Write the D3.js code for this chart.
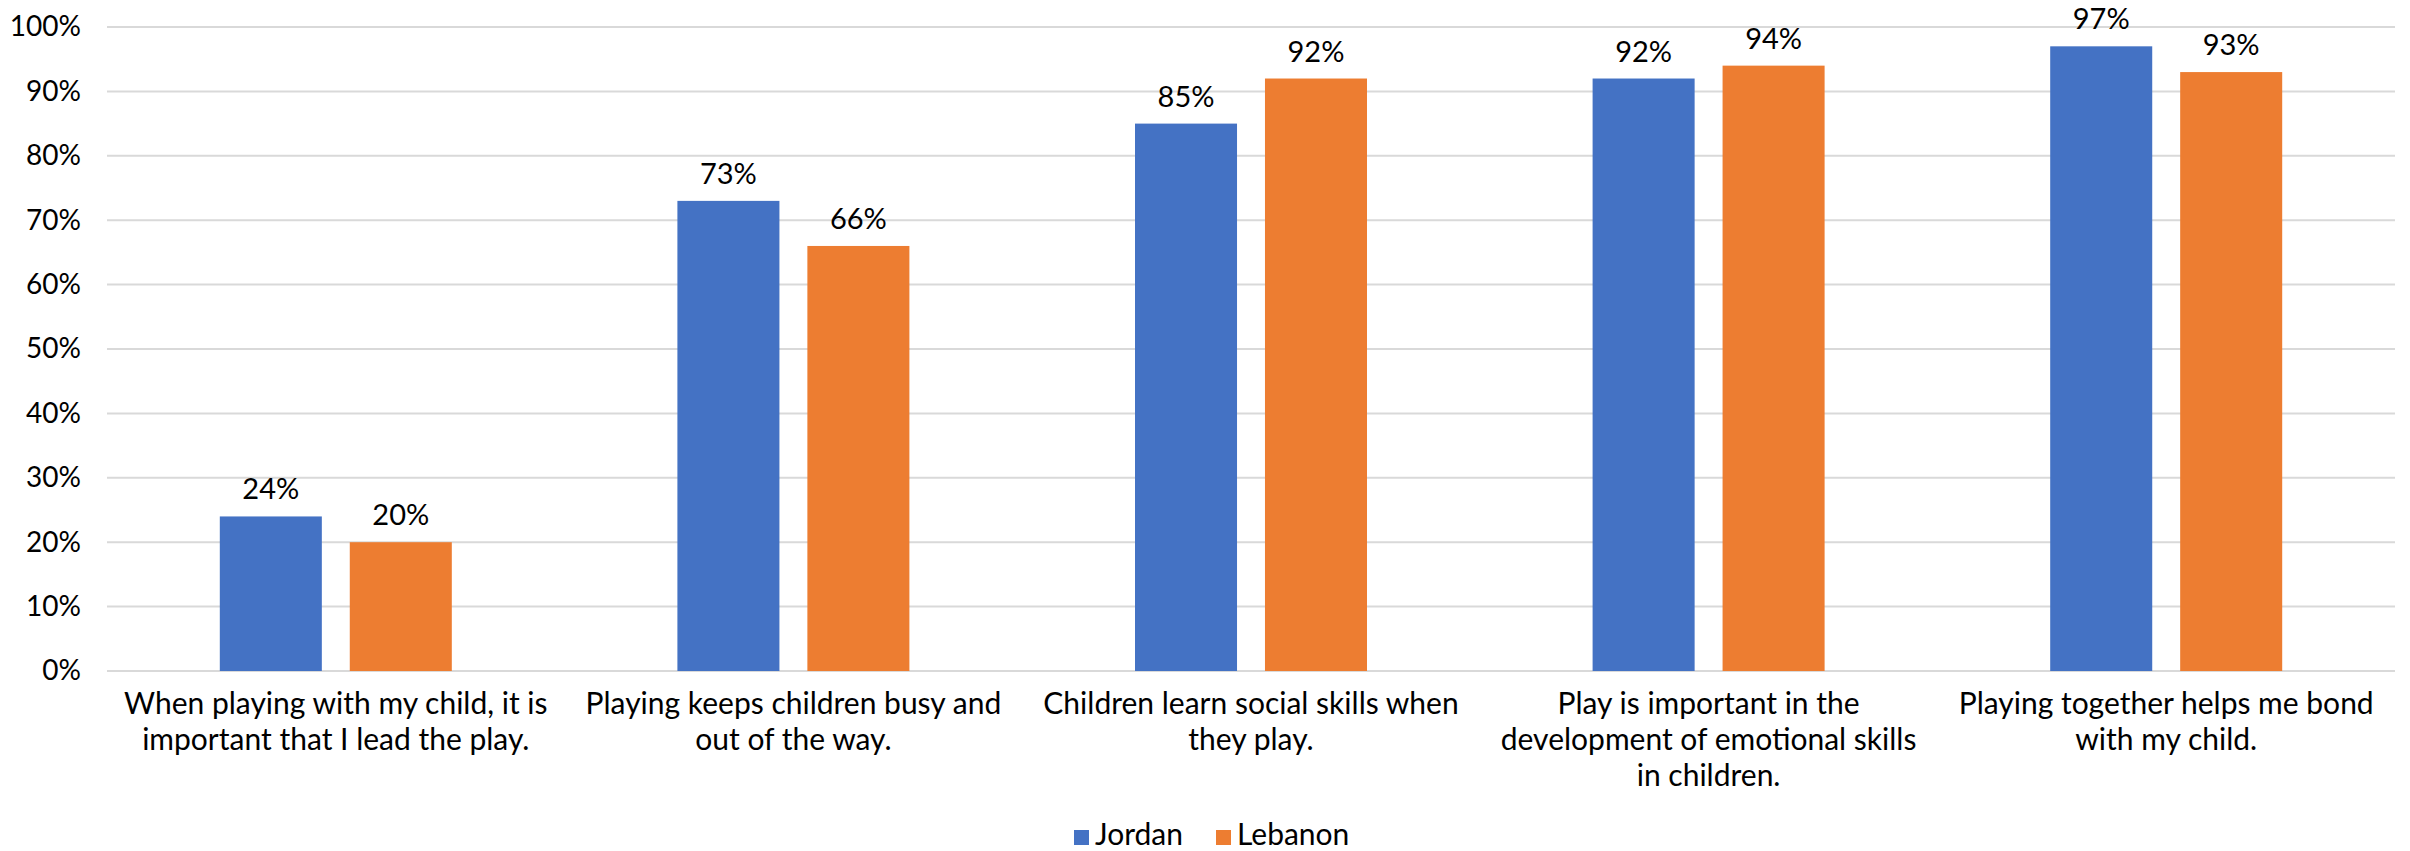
<!DOCTYPE html>
<html>
<head>
<meta charset="utf-8">
<script src="https://cdn.jsdelivr.net/npm/d3@7"></script>
<style>
  html, body { margin: 0; padding: 0; background: #fff; }
  svg { display: block; font-family: Lato, "Open Sans", sans-serif; }
</style>
</head>
<body>
<svg id="chart" width="2410" height="851"></svg>
<script>
// Statements (each label split into its display lines)
const categories = [
  ["When playing with my child, it is", "important that I lead the play."],
  ["Playing keeps children busy and", "out of the way."],
  ["Children learn social skills when", "they play."],
  ["Play is important in the", "development of emotional skills", "in children."],
  ["Playing together helps me bond", "with my child."]
];
const seriesNames = ["Jordan", "Lebanon"];
const jordan = [24, 73, 85, 92, 97];
const lebanon = [20, 66, 92, 94, 93];
const yTicks = [0, 10, 20, 30, 40, 50, 60, 70, 80, 90, 100];
const colors = ["#4472C4", "#ED7D31"];

const svg = d3.select("#chart");
const margin = { left: 107, right: 15, top: 27, bottom: 180 };
const W = 2410, H = 851;
const plotBottom = 671;

const x0 = d3.scaleBand()
  .domain(d3.range(categories.length))
  .range([margin.left, W - margin.right])
  .paddingInner(0)
  .paddingOuter(0);

// inner band per series: two bars with a gap, centred in the category
const groupWidth = 232;
const x1 = d3.scaleBand()
  .domain(seriesNames)
  .range([0, groupWidth])
  .paddingInner(0.215)
  .paddingOuter(0);

const y = d3.scaleLinear().domain([0, 100]).range([plotBottom, margin.top]);

// Gridlines
svg.append("g")
  .selectAll("line")
  .data(yTicks)
  .join("line")
  .attr("x1", margin.left)
  .attr("x2", W - margin.right)
  .attr("y1", d => y(d))
  .attr("y2", d => y(d))
  .attr("stroke", "#d9d9d9")
  .attr("stroke-width", 2);

// Y axis labels
const yAxis = d3.axisLeft(y)
  .tickValues(yTicks)
  .tickFormat(d => d + "%")
  .tickSize(0)
  .tickPadding(0);
const yg = svg.append("g")
  .attr("transform", `translate(${margin.left - 26},0)`)
  .call(yAxis);
yg.select(".domain").remove();
yg.selectAll("text")
  .attr("font-size", 28)
  .attr("fill", "#000")
  .attr("font-family", "Lato, 'Open Sans', sans-serif");

// Bars
const series = [jordan, lebanon];
const groups = svg.append("g")
  .selectAll("g")
  .data(categories.map((c, i) => i))
  .join("g")
  .attr("transform", i => `translate(${x0(i) + (x0.bandwidth() - groupWidth) / 2},0)`);

groups.selectAll("rect")
  .data(i => seriesNames.map((s, k) => ({ s, k, v: series[k][i] })))
  .join("rect")
  .attr("x", d => x1(d.s))
  .attr("width", x1.bandwidth())
  .attr("y", d => y(d.v))
  .attr("height", d => y(0) - y(d.v))
  .attr("fill", d => colors[d.k]);

// Value labels
groups.selectAll("text.val")
  .data(i => seriesNames.map((s, k) => ({ s, k, v: series[k][i] })))
  .join("text")
  .attr("class", "val")
  .attr("x", d => x1(d.s) + x1.bandwidth() / 2)
  .attr("y", d => y(d.v) - 17)
  .attr("text-anchor", "middle")
  .attr("font-size", 29)
  .attr("fill", "#000")
  .text(d => d.v + "%");

// Category labels
const catG = svg.append("g");
categories.forEach((lines, i) => {
  const t = catG.append("text")
    .attr("x", x0(i) + x0.bandwidth() / 2)
    .attr("y", 714)
    .attr("text-anchor", "middle")
    .attr("font-size", 30)
    .attr("fill", "#000");
  lines.forEach((ln, j) => {
    t.append("tspan")
      .attr("x", x0(i) + x0.bandwidth() / 2)
      .attr("dy", j === 0 ? 0 : 36)
      .text(ln);
  });
});

// Legend
const legend = svg.append("g").attr("transform", "translate(1074,830)");
const legendX = [0, 142];
seriesNames.forEach((name, k) => {
  const g = legend.append("g").attr("transform", `translate(${legendX[k]},0)`);
  g.append("rect").attr("width", 15).attr("height", 15).attr("fill", colors[k]);
  g.append("text")
    .attr("x", 21)
    .attr("y", 15)
    .attr("font-size", 30)
    .attr("fill", "#000")
    .text(name);
});
</script>
</body>
</html>
